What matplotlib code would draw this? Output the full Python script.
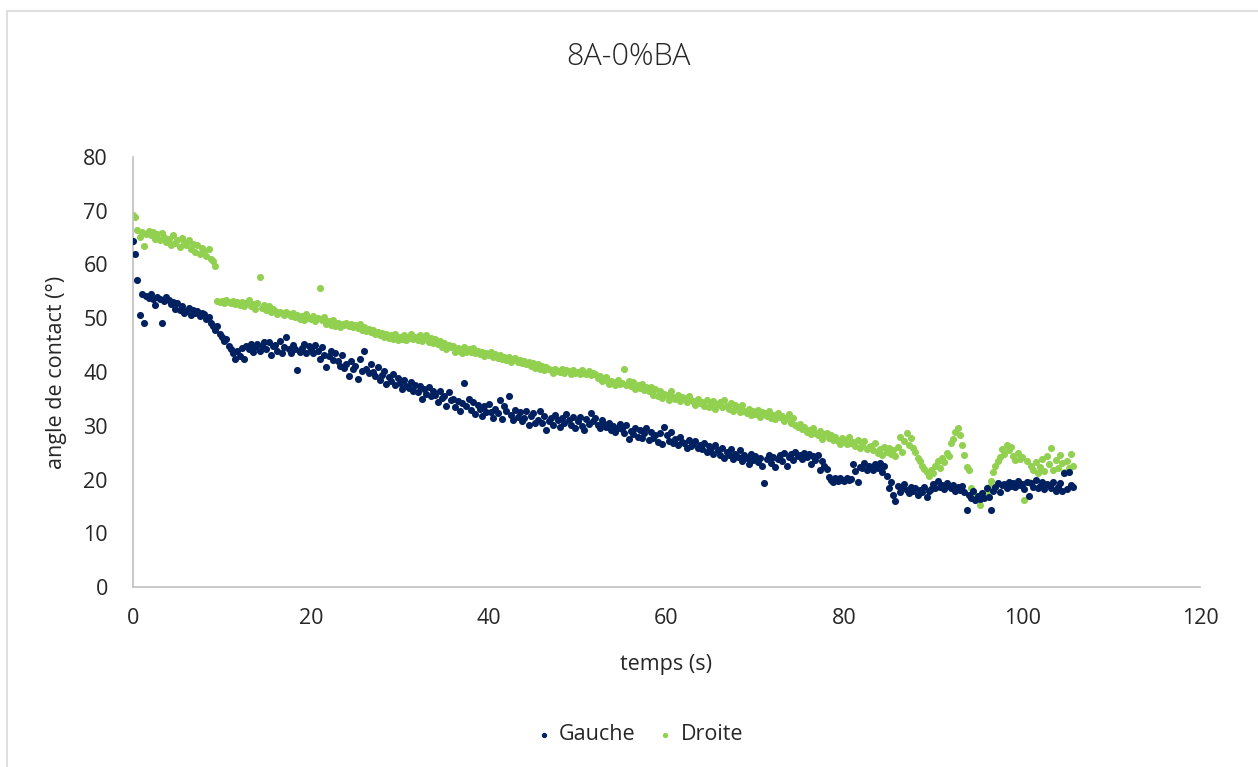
import matplotlib
matplotlib.use("Agg")
import matplotlib.pyplot as plt
from matplotlib.patches import Rectangle

plt.rcParams['font.family'] = ['Open Sans', 'DejaVu Sans']

title = "8A-0%BA"
xlabel = "temps (s)"
ylabel = "angle de contact (°)"
series_names = ["Gauche", "Droite"]
x_ticks = [0, 20, 40, 60, 80, 100, 120]
y_ticks = [0, 10, 20, 30, 40, 50, 60, 70, 80]
dt = 0.25  # sampling step (s)

gauche = [
    64.4, 62.0, 57.1, 50.6, 54.5, 49.1, 54.2, 53.8, 54.6, 53.5, 52.4, 54.0,
    53.6, 49.1, 53.2, 54.0, 53.4, 52.6, 53.0, 51.8, 52.8, 51.5, 52.3, 51.0,
    51.4, 52.0, 50.6, 51.5, 50.9, 51.3, 50.4, 51.0, 50.7, 49.8, 50.3, 49.2,
    48.5, 47.8, 48.6, 47.0, 46.6, 45.8, 46.2, 44.8, 44.2, 43.6, 42.5, 44.0,
    43.0, 44.5, 42.4, 44.8, 44.2, 45.2, 43.8, 44.6, 45.3, 44.0, 44.8, 45.5,
    44.3, 45.6, 43.2, 44.8, 45.0, 44.0, 45.8, 43.6, 44.6, 46.5, 44.2, 43.5,
    45.0, 44.2, 40.4, 43.8, 44.5, 45.2, 43.6, 44.8, 44.2, 43.5, 45.0, 44.0,
    42.5, 44.6, 43.2, 41.0, 43.0, 44.0, 42.2, 43.5, 42.0, 41.2, 43.2, 40.8,
    41.5, 39.3, 42.0, 40.6, 41.2, 38.7, 42.5, 40.2, 44.0, 40.5, 39.8, 41.5,
    40.0, 39.2, 41.0, 38.5, 39.5, 40.2, 37.8, 39.0, 38.4, 39.6, 37.5, 38.8,
    38.0, 36.8, 38.5, 37.4, 37.0, 38.2, 36.5, 37.6, 36.2, 37.4, 35.0, 36.8,
    36.0, 37.2, 35.6, 36.5, 35.8, 34.5, 36.4, 35.2, 35.6, 33.6, 36.2, 34.8,
    35.0, 33.5, 34.6, 32.8, 34.2, 38.0, 33.6, 35.0, 33.0, 34.5, 32.2, 33.8,
    33.2, 31.8, 33.6, 32.5, 34.0, 32.6, 31.5, 33.2, 32.4, 34.8, 31.2, 33.6,
    32.8, 35.5, 32.0, 31.0, 33.0, 31.6, 32.5, 30.8, 31.5, 32.8, 30.2, 31.8,
    32.4, 30.5, 31.0, 32.8, 30.6, 31.8, 29.2, 30.8, 31.5, 30.2, 32.0, 31.0,
    29.8, 31.4, 30.5, 32.2, 31.0, 30.2, 31.6, 29.5, 30.8, 31.6, 30.0, 29.2,
    31.2, 30.4, 32.4, 30.8, 31.5, 30.2, 29.6, 31.0, 30.4, 29.8, 30.6, 29.2,
    30.0, 28.8, 29.6, 30.4, 29.4, 28.6, 30.2, 27.6, 29.0, 28.4, 29.6, 28.0,
    29.2, 27.8, 28.6, 29.6, 27.4, 28.8, 27.8, 28.2, 27.0, 28.6, 26.6, 29.8,
    28.2, 27.2, 28.8, 26.8, 27.6, 26.4, 28.0, 27.0, 26.8, 25.8, 27.4, 26.2,
    26.6, 27.2, 25.8, 26.4, 25.6, 26.8, 25.2, 26.2, 25.8, 24.8, 26.4, 25.4,
    24.6, 25.8, 24.0, 25.2, 24.6, 25.6, 23.8, 24.8, 24.2, 25.4, 23.4, 24.6,
    24.0, 22.8, 24.8, 23.6, 24.4, 23.2, 24.0, 22.6, 19.4, 23.8, 24.6, 23.0,
    24.2, 22.4, 23.8, 24.6, 23.4, 25.0, 22.6, 24.2, 24.8, 23.6, 25.2, 24.4,
    24.6, 23.8, 25.0, 24.2, 24.8, 22.8, 24.4, 23.6, 24.6, 21.8, 23.4, 22.6,
    22.0, 20.4, 20.0, 19.6, 20.2, 19.8, 20.2, 20.0, 19.8, 20.2, 19.9, 20.1,
    22.8, 21.6, 19.6, 22.4, 22.2, 23.0, 21.8, 22.6, 22.4, 21.8, 22.8, 22.2,
    23.0, 21.4, 22.6, 20.6, 18.4, 19.6, 17.2, 16.0, 18.8, 17.6, 18.4, 19.2,
    18.0, 17.4, 18.6, 17.8, 18.4, 17.2, 18.0, 17.6, 18.6, 16.8, 17.8, 18.2,
    19.2, 18.4, 19.8, 18.6, 19.0, 18.2, 19.4, 18.8, 18.4, 19.0, 17.8, 18.6,
    18.0, 18.8, 17.6, 14.4, 17.2, 16.6, 17.8, 16.2, 17.0, 16.4, 17.4, 16.6,
    18.4, 16.8, 14.3, 17.8, 18.6, 19.4, 17.6, 19.0, 19.2, 18.4, 19.6, 18.8,
    19.4, 18.6, 19.8, 19.0, 19.2, 18.2, 19.6, 17.0, 19.4, 18.6, 20.0, 18.4,
    18.8, 19.6, 18.2, 19.2, 19.0, 18.4, 19.6, 17.8, 18.6, 19.4, 17.8, 21.2,
    18.2, 21.4, 19.0, 18.6,
]

droite = [
    69.2, 68.8, 66.4, 65.2, 66.0, 63.4, 65.6, 66.2, 65.4, 66.0, 64.8, 65.6,
    64.6, 65.8, 65.2, 64.2, 64.8, 63.6, 65.4, 64.0, 64.6, 63.2, 65.0, 64.2,
    63.6, 64.6, 62.8, 63.8, 62.4, 63.6, 62.0, 63.0, 62.6, 61.6, 62.8, 61.0,
    60.6, 59.8, 53.2, 53.0, 53.2, 52.8, 53.4, 53.0, 52.8, 53.2, 52.6, 53.0,
    52.4, 53.0, 52.2, 52.8, 53.4, 52.2, 52.6, 51.8, 52.8, 57.6, 52.0, 52.4,
    51.6, 52.2, 51.2, 51.8, 51.4, 50.8, 51.2, 51.0, 50.6, 51.2, 50.8, 50.4,
    51.0, 50.2, 50.6, 49.8, 50.4, 49.6, 50.8, 50.0, 49.8, 50.4, 49.4, 50.0,
    55.6, 49.6, 50.2, 49.0, 49.4, 48.8, 49.6, 48.6, 49.2, 48.4, 49.0, 48.8,
    49.2, 48.6, 49.0, 48.4, 48.8, 48.2, 49.0, 47.8, 48.4, 47.6, 48.0, 47.4,
    47.8, 47.0, 47.4, 46.8, 47.2, 46.6, 47.0, 46.4, 46.8, 46.2, 47.0, 46.0,
    46.6, 46.2, 46.8, 46.0, 46.4, 47.0, 46.2, 46.6, 46.0, 46.8, 45.8, 46.4,
    46.8, 45.6, 46.4, 45.4, 46.2, 45.2, 45.8, 44.6, 45.4, 44.2, 45.0, 44.6,
    44.8, 43.8, 44.4, 44.0, 43.6, 44.6, 43.8, 44.2, 43.8, 44.4, 43.6, 44.0,
    43.4, 43.8, 43.0, 43.6, 43.2, 43.8, 42.8, 43.4, 42.6, 43.2, 42.4, 42.8,
    42.2, 42.8, 41.8, 42.4, 42.6, 41.8, 42.2, 41.6, 42.0, 41.4, 41.8, 41.2,
    41.6, 40.8, 41.4, 40.6, 41.2, 40.4, 41.0, 40.6, 40.4, 39.8, 40.6, 40.2,
    40.0, 40.6, 39.8, 40.4, 40.2, 39.6, 40.4, 39.8, 40.0, 39.6, 40.4, 39.8,
    39.6, 40.2, 39.4, 39.8, 39.6, 38.8, 39.2, 38.4, 38.6, 39.0, 37.8, 38.4,
    38.2, 37.6, 38.6, 37.8, 38.0, 40.6, 37.6, 38.4, 37.4, 38.2, 36.8, 37.6,
    37.0, 37.8, 36.6, 37.2, 36.4, 37.2, 35.8, 36.8, 35.6, 36.4, 35.2, 36.0,
    35.8, 34.8, 36.4, 35.4, 35.0, 35.8, 34.6, 35.4, 35.2, 34.4, 35.6, 34.8,
    34.6, 33.8, 35.0, 34.2, 34.4, 33.6, 34.8, 33.4, 33.8, 34.6, 33.2, 34.0,
    34.4, 33.4, 34.8, 33.6, 33.2, 34.2, 32.8, 33.8, 33.4, 32.6, 33.8, 32.8,
    32.4, 33.2, 32.0, 32.8, 32.2, 33.0, 31.6, 32.6, 32.4, 31.8, 32.8, 31.4,
    32.0, 31.2, 32.4, 31.6, 31.8, 30.8, 31.4, 32.2, 30.6, 31.4, 30.2, 29.8,
    30.4, 29.4, 29.8, 28.8, 29.2, 28.4, 29.6, 28.6, 28.2, 29.0, 27.6, 28.4,
    28.6, 27.8, 28.2, 27.4, 28.0, 27.2, 26.6, 27.8, 27.4, 26.6, 28.0, 26.8,
    27.0, 26.2, 27.4, 25.8, 26.4, 27.2, 25.6, 26.0, 26.2, 25.4, 26.8, 25.0,
    25.6, 24.6, 26.0, 25.2, 25.8, 24.8, 25.4, 24.4, 26.0, 28.0, 25.2, 27.2,
    28.6, 26.4, 27.8, 25.8, 25.2, 24.0, 23.4, 22.6, 22.0, 21.4, 20.6, 21.8,
    21.2, 22.6, 23.4, 22.2, 24.0, 23.2, 25.0, 24.4, 26.8, 27.6, 28.8, 29.6,
    28.2, 26.4, 24.6, 22.4, 21.8, 18.4, 17.6, 17.0, 16.4, 15.2, 17.4, 16.8,
    17.8, 18.6, 19.8, 21.4, 22.6, 23.4, 24.2, 25.6, 24.8, 26.4, 25.4, 26.0,
    24.4, 23.6, 25.0, 23.8, 24.2, 16.2, 23.4, 19.6, 22.6, 21.8, 23.2, 21.2,
    22.4, 23.8, 21.6, 24.4, 22.8, 25.8, 21.8, 23.6, 22.2, 24.6, 23.0, 21.4,
    23.4, 22.2, 24.8, 22.6,
]

temps_g = [i * dt for i in range(len(gauche))]
temps_d = [i * dt for i in range(len(droite))]

navy = "#002060"
green = "#92D050"
text_col = "#262626"
axis_col = "#BFBFBF"

fig = plt.figure(figsize=(12.58, 7.67), dpi=100)
fig.patches.append(Rectangle((7 / 1258, -0.01), 1.02, 1 - 11 / 767 + 0.01,
                             transform=fig.transFigure, fill=False,
                             edgecolor="#D9D9D9", linewidth=1.2))
ax = fig.add_axes([133 / 1258, 1 - 587 / 767, (1200 - 133) / 1258, (587 - 157) / 767])

ax.scatter(temps_g, gauche, s=26, color=navy, linewidths=0, label=series_names[0], zorder=3)
ax.scatter(temps_d, droite, s=26, color=green, linewidths=0, label=series_names[1], zorder=2)

ax.set_xlim(0, 120)
ax.set_ylim(0, 80)
ax.set_xticks(x_ticks)
ax.set_yticks(y_ticks)
ax.tick_params(length=0, labelsize=15.5, colors=text_col)
ax.tick_params(axis="y", pad=18)
ax.tick_params(axis="x", pad=15)
for side in ["top", "right"]:
    ax.spines[side].set_visible(False)
for side in ["left", "bottom"]:
    ax.spines[side].set_color(axis_col)
    ax.spines[side].set_linewidth(1.2)

ax.set_xlabel(xlabel, fontsize=15.5, color=text_col, labelpad=18)
ax.set_ylabel(ylabel, fontsize=15.5, color=text_col, labelpad=12)
fig.text(628 / 1258, 1 - 57 / 767, title, ha="center", va="center",
         fontsize=22, color=text_col, fontweight="light")

leg = fig.legend(loc="center", bbox_to_anchor=(640 / 1258, 1 - 735 / 767), ncol=2,
                 frameon=False, fontsize=15.5, markerscale=0.75, handlelength=0.6,
                 handletextpad=0.4, columnspacing=1.1, labelcolor=text_col)

fig.savefig("out.png", dpi=100, facecolor="white")
